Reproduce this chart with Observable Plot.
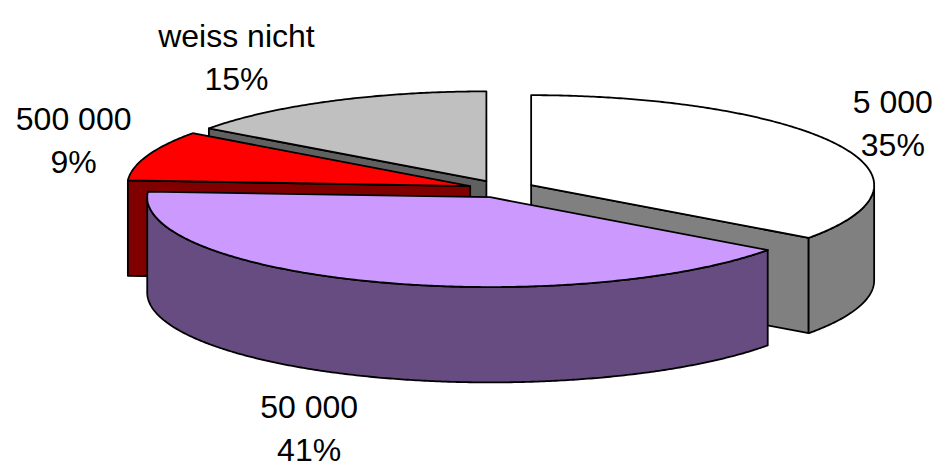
<!DOCTYPE html>
<html><head><meta charset="utf-8">
<script src="https://cdn.jsdelivr.net/npm/d3@7"></script>
<script src="https://cdn.jsdelivr.net/npm/@observablehq/plot@0.6"></script>
<style>html,body{margin:0;padding:0;background:#fff;} svg{display:block}</style>
</head><body><div id="chart"></div>
<script>
// ---- data ----
const categories = ["5 000", "50 000", "500 000", "weiss nicht"];
const percents = [35, 41, 9, 15];
const topColors = ["#FFFFFF", "#CC99FF", "#FF0000", "#C0C0C0"];
const sideColors = ["#808080", "#664C80", "#800000", "#606060"];

// ---- layout ----
const W = 946, H = 468;
const CX = 501, CY = 188.5, RPX = 343;        // pie centre and radius (px)
const TILT = 0.262, DEPTH = 0.278, EXPLODE = 0.097;
const FONT = 32, LINE = 43;
const FONT_FAMILY = "'Liberation Sans', Arial, sans-serif";

const total = d3.sum(percents);
let acc = 0;
const slices = categories.map((c, i) => {
  const a0 = acc / total * 2 * Math.PI; acc += percents[i];
  const a1 = acc / total * 2 * Math.PI;
  const mid = (a0 + a1) / 2;
  return {i, label: c, pct: percents[i], a0, a1, mid,
    ox: EXPLODE * Math.sin(mid), oy: EXPLODE * TILT * Math.cos(mid)};
});
function pt(s, a, r, z) {
  return {x: s.ox + r * Math.sin(a), y: s.oy + r * TILT * Math.cos(a) - z * DEPTH};
}
function arc(s, a0, a1, z) {
  const n = Math.max(2, Math.ceil(Math.abs(a1 - a0) / (Math.PI / 360)));
  return d3.range(n + 1).map(k => pt(s, a0 + (a1 - a0) * k / n, 1, z));
}

const polys = [];
for (const s of [...slices].sort((a, b) => Math.cos(b.mid) - Math.cos(a.mid))) {
  const side = sideColors[s.i], top = topColors[s.i];
  if (Math.sin(s.a0) < -1e-9) polys.push({fill: side, pts: [pt(s, 0, 0, 0), pt(s, s.a0, 1, 0), pt(s, s.a0, 1, 1), pt(s, 0, 0, 1)]});
  if (Math.sin(s.a1) > 1e-9) polys.push({fill: side, pts: [pt(s, 0, 0, 0), pt(s, s.a1, 1, 0), pt(s, s.a1, 1, 1), pt(s, 0, 0, 1)]});
  const w0 = Math.max(s.a0, Math.PI / 2), w1 = Math.min(s.a1, 3 * Math.PI / 2);
  if (w1 > w0) polys.push({fill: side, pts: [...arc(s, w0, w1, 0), ...arc(s, w1, w0, 1)]});
  polys.push({fill: top, pts: [pt(s, 0, 0, 0), ...arc(s, s.a0, s.a1, 0)]});
}

const ctx = document.createElement("canvas").getContext("2d");
ctx.font = `${FONT}px ${FONT_FAMILY}`;
const labels = slices.map(s => {
  const text = `${s.label}\n${s.pct}%`;
  const w = d3.max(text.split("\n"), t => ctx.measureText(t).width);
  const p = pt(s, s.mid, 1, Math.cos(s.mid) < 0 ? 1 : 0);
  return {x: p.x, y: p.y, text,
    dx: Math.sign(Math.sin(s.mid)) * (w / 2 + 16),
    dy: -Math.cos(s.mid) * (LINE + 9)};
});

const marks = polys.map(p => Plot.line(p.pts, {
  x: "x", y: "y", fill: p.fill, stroke: "#000", strokeWidth: 1.8,
  strokeLinejoin: "round", curve: "linear-closed"
}));
for (const l of labels) {
  marks.push(Plot.text([l], {x: "x", y: "y", text: "text", dx: l.dx, dy: l.dy,
    fontSize: FONT, lineHeight: LINE / FONT, textAnchor: "middle", lineAnchor: "middle",
    fill: "#000", fontFamily: FONT_FAMILY}));
}

const chart = Plot.plot({
  width: W, height: H, margin: 0,
  x: {domain: [-CX / RPX, (W - CX) / RPX], axis: null},
  y: {domain: [(CY - H) / RPX, CY / RPX], axis: null},
  style: {fontFamily: FONT_FAMILY, background: "#fff"},
  marks
});
document.getElementById("chart").appendChild(chart);
</script>
</body></html>
